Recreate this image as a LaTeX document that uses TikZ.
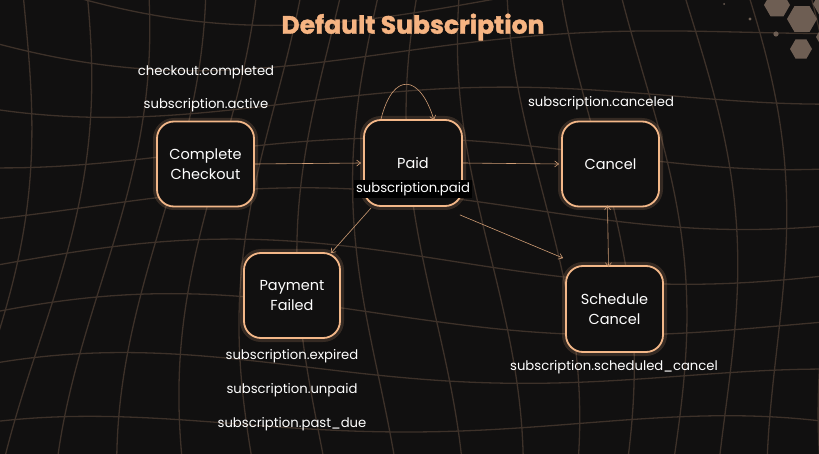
\documentclass[tikz,border=0pt]{standalone}
\usepackage{fontspec}
\setmainfont{Poppins}
\newfontfamily\titlefont{Poppins}[BoldFeatures={FakeBold=1.4}]
\usetikzlibrary{arrows.meta,shapes.geometric}
\definecolor{bg}{HTML}{111010}
\definecolor{peach}{HTML}{F3B788}
\definecolor{gridc}{HTML}{3D3129}
\definecolor{hexc}{HTML}{6E5E53}
\definecolor{titlec}{HTML}{F6B482}
\tikzset{
  statebox/.style={draw=peach, line width=1.8pt, rounded corners=17pt, fill=bg,
    minimum width=97pt, minimum height=85pt, align=center, text=white,
    font=\fontsize{14.5}{19.5}\selectfont, inner sep=2pt},
  glow/.style={draw=peach, line width=8pt, rounded corners=17pt, opacity=0.16},
  evt/.style={text=white, font=\fontsize{13.2}{15}\selectfont, inner sep=1pt},
  arr/.style={draw=peach!85!black, line width=0.6pt, -{Straight Barb[length=4pt,width=6pt]}},
  gridline/.style={draw=gridc, line width=1.3pt},
  hex/.style={regular polygon, regular polygon sides=6, fill=hexc, draw=none, inner sep=0pt}
}
\begin{document}
\begin{tikzpicture}[x=1pt,y=-1pt]
\useasboundingbox (0,0) rectangle (819,454);
\fill[bg] (0,0) rectangle (819,454);
\begin{scope}
\clip (0,0) rectangle (819,454);
% warped grid: vertical lines
\foreach \u in {-60,-5,...,900}{
  \draw[gridline] plot[domain=-40:500, samples=40, smooth, variable=\t]
    ({\u + 28*sin(0.45*\t + 0.5*\u) + 0.06*(\u-410)*(\t-240)/240*1.2}, {\t});
}
% warped grid: horizontal lines
\foreach \v in {-40,10,...,520}{
  \draw[gridline] plot[domain=-40:860, samples=50, smooth, variable=\t]
    ({\t}, {\v + 22*sin(0.4*\t + 0.7*\v) + 0.00025*(\t-410)*(\t-410)*(\v-230)/230});
}
% hexagons top right
\node[hex, minimum size=26pt] at (777,5) {};
\node[hex, minimum size=30pt] at (802,19) {};
\node[hex, minimum size=22pt] at (801,49) {};
\node[hex, minimum size=26pt] at (826,4) {};
\node[hex, minimum size=20pt] at (826,37) {};
\fill[hexc] (750,19) circle (1.6pt);
\fill[hexc] (776,34) circle (2.6pt);
\fill[hexc] (724,4) circle (1pt);
\end{scope}

% title
\node[text=titlec, font=\titlefont\fontsize{25}{28}\bfseries\selectfont] (title) at (413,27) {Default Subscription};

% glow behind state boxes
\draw[glow] (157,122) rectangle (254,206);
\draw[glow] (364,120) rectangle (462,206);
\draw[glow] (562,122) rectangle (659,206);
\draw[glow] (244,253) rectangle (340,338);
\draw[glow] (566,266) rectangle (663,352);

\node[statebox] (cc) at (205.5,164) {Complete\\Checkout};
\node[statebox, minimum width=98pt, minimum height=86pt] (paid) at (413,163) {Paid};
\node[statebox] (cancel) at (610.5,164) {Cancel};
\node[statebox, minimum width=96pt] (pf) at (292,295.5) {Payment\\Failed};
\node[statebox, minimum height=86pt] (sc) at (614.5,309) {Schedule\\Cancel};

% event labels
\node[evt] (l1) at (206,72) {checkout.completed};
\node[evt] (l2) at (206,105) {subscription.active};
\node[evt, fill=black, inner sep=2pt] (l3) at (413,189) {subscription.paid};
\node[evt] (l4) at (601,103) {subscription.canceled};
\node[evt] (l5) at (292,356) {subscription.expired};
\node[evt] (l6) at (292,390) {subscription.unpaid};
\node[evt] (l7) at (292,424) {subscription.past\_due};
\node[evt] (l8) at (614,367) {subscription.scheduled\_cancel};

% connectors
\draw[arr] (cc.east) -- ([xshift=-2pt]paid.west);
\draw[arr] (paid.east) -- ([xshift=-2pt]cancel.west);
\draw[arr] ([xshift=-32pt]paid.north) .. controls +(12,-48) and +(-14,-46) .. ([xshift=21pt,yshift=-1pt]paid.north);
\coordinate (p1) at ([xshift=8pt,yshift=-1pt]paid.south west);
\draw[arr] (p1) -- ([xshift=-10pt,yshift=-1pt]pf.north east);
\coordinate (p2) at ([xshift=-3pt,yshift=-8pt]paid.south east);
\draw[arr] (p2) -- ([xshift=-2pt,yshift=7pt]sc.north west);
\draw[arr, {Straight Barb[length=4pt,width=6pt]}-{Straight Barb[length=4pt,width=6pt]}] ([xshift=-3pt,yshift=2pt]cancel.south) -- ([xshift=-6pt,yshift=-2pt]sc.north);
\end{tikzpicture}
\end{document}
